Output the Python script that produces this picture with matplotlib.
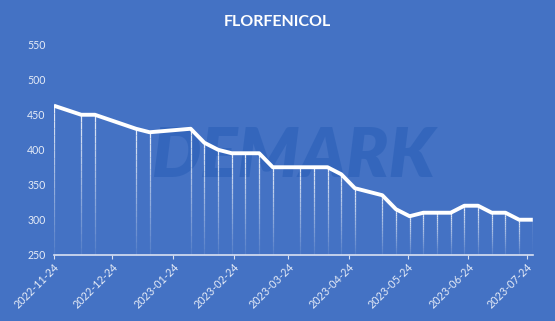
import numpy as np
import pandas as pd
import matplotlib
matplotlib.use('Agg')
import matplotlib.pyplot as plt
import matplotlib.dates as mdates

# Prix florfenicol (lecture du graphique)
dates = ['2022-11-24', '2022-12-08', '2022-12-15', '2023-01-05', '2023-01-12',
         '2023-02-02', '2023-02-09', '2023-02-16', '2023-02-23', '2023-03-02',
         '2023-03-09', '2023-03-16', '2023-03-30', '2023-04-06', '2023-04-13',
         '2023-04-20', '2023-04-27', '2023-05-11', '2023-05-18', '2023-05-25',
         '2023-06-01', '2023-06-08', '2023-06-15', '2023-06-22', '2023-06-29',
         '2023-07-06', '2023-07-13', '2023-07-20', '2023-07-27']
prices = [463, 450, 450, 430, 425,
          430, 410, 400, 395, 395,
          395, 375, 375, 375, 375,
          365, 345, 335, 315, 305,
          310, 310, 310, 320, 320,
          310, 310, 300, 300]
tick_dates = ['2022-11-24', '2022-12-24', '2023-01-24', '2023-02-24', '2023-03-24',
              '2023-04-24', '2023-05-24', '2023-06-24', '2023-07-24']
y_ticks = [250, 300, 350, 400, 450, 500, 550]

bg = '#4472C4'
txt = '#E6ECF7'
plt.rcParams['font.family'] = ['Lato', 'DejaVu Sans']

x = pd.to_datetime(dates)
xt = pd.to_datetime(tick_dates)

fig = plt.figure(figsize=(5.55, 3.21), dpi=100, facecolor=bg)
ax = fig.add_axes([0.097, 0.2065, 0.863, 0.654], facecolor=bg)

# filigrane
ax.text(0.5, 0.465, 'DEMARK', transform=ax.transAxes, ha='center', va='center',
        fontsize=50, fontweight='heavy', fontstyle='italic', color='#2F63BA',
        alpha=0.75, zorder=0)

# lignes de projection en dégradé
ymin = 250
n_steps = 20
for xi, yi in zip(x, prices):
    edges = np.linspace(yi, ymin, n_steps + 1)
    for k in range(n_steps):
        a = 0.8 * (1 - k / n_steps) + 0.05
        ax.vlines(xi, edges[k + 1], edges[k], color='white', alpha=a,
                  linewidth=0.9, zorder=1)

ax.plot(x, prices, color='white', linewidth=2.8, solid_joinstyle='round',
        solid_capstyle='butt', zorder=3)

ax.set_ylim(250, 550)
ax.set_xlim(x[0], x[-1])
ax.set_yticks(y_ticks)
ax.set_xticks(xt)
ax.xaxis.set_major_formatter(mdates.DateFormatter('%Y-%m-%d'))

for s in ['top', 'right', 'left']:
    ax.spines[s].set_visible(False)
ax.spines['bottom'].set_color('#D9E1F2')
ax.spines['bottom'].set_linewidth(1.2)
ax.tick_params(axis='y', length=0, labelsize=7.6, labelcolor=txt, pad=6)
ax.tick_params(axis='x', length=3, direction='out', color='#D9E1F2',
               labelsize=7.8, labelcolor=txt, pad=2)
for lab in ax.get_xticklabels():
    lab.set_rotation(45)
    lab.set_ha('right')
    lab.set_rotation_mode('anchor')

fig.text(0.5, 0.93, 'FLORFENICOL', ha='center', va='center', color='white',
         fontsize=11.5, fontweight='bold')

fig.savefig('out.png', dpi=100, facecolor=bg)
